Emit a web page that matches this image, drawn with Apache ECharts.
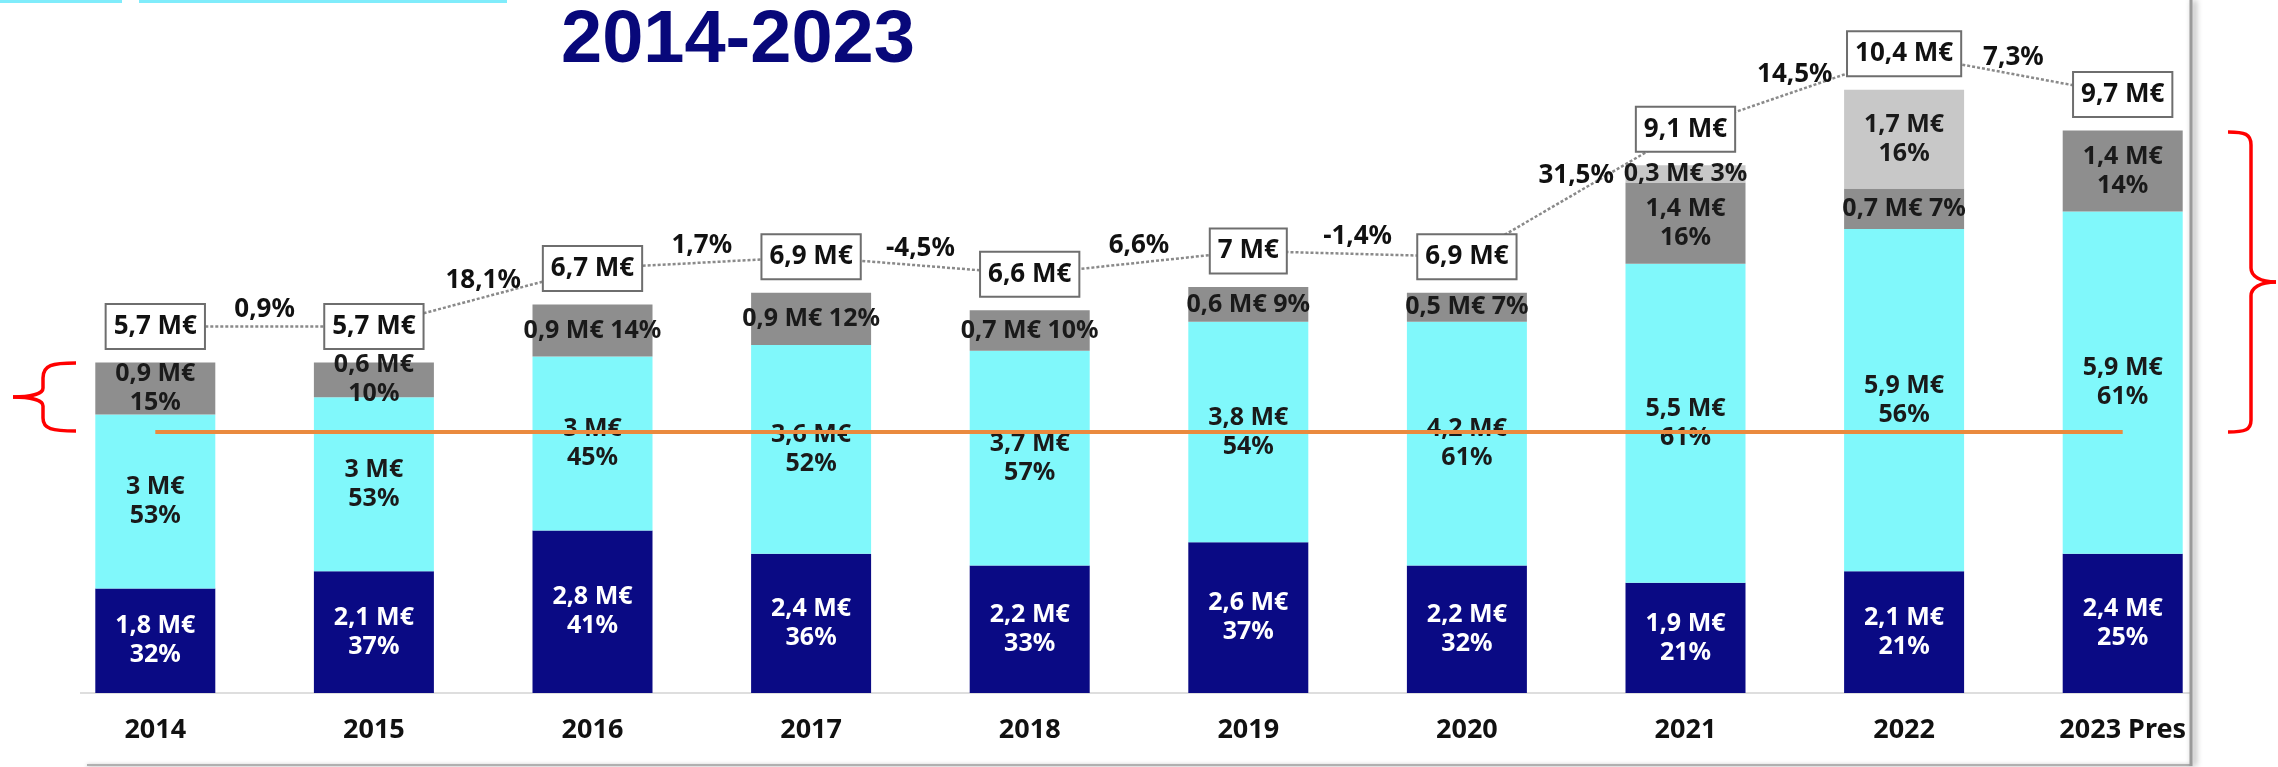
<!DOCTYPE html>
<html><head><meta charset="utf-8">
<script src="https://cdn.jsdelivr.net/npm/echarts@6/dist/echarts.min.js"></script>
<style>html,body{margin:0;padding:0;background:#fff}#c{width:2278px;height:767px}</style>
</head><body><div id="c"></div>
<script>
const categories = ['2014','2015','2016','2017','2018','2019','2020','2021','2022','2023 Pres'];
const navyValues = [1.8,2.1,2.8,2.4,2.2,2.6,2.2,1.9,2.1,2.4];
const navyPct    = [32,37,41,36,33,37,32,21,21,25];
const cyanValues = [3,3,3,3.6,3.7,3.8,4.2,5.5,5.9,5.9];
const cyanPct    = [53,53,45,52,57,54,61,61,56,61];
const grayValues = [0.9,0.6,0.9,0.9,0.7,0.6,0.5,1.4,0.7,1.4];
const grayPct    = [15,10,14,12,10,9,7,16,7,14];
const lightValues = [null,null,null,null,null,null,null,0.3,1.7,null];
const lightPct    = [null,null,null,null,null,null,null,3,16,null];
const totals = [5.7,5.7,6.7,6.9,6.6,7,6.9,9.1,10.4,9.7];
const growth = ['0,9%','18,1%','1,7%','-4,5%','6,6%','-1,4%','31,5%','14,5%','7,3%'];
const referenceLevel = 4.5;
const titleText = '2014-2023';

const grayTwoLine = [0,1,7,9];
const lightTwoLine = [8];

function fmt(v){ return (Number.isInteger(v) ? String(v) : v.toFixed(1).replace('.', ',')) + ' M€'; }

const barFont = {fontFamily:'Noto Sans', fontWeight:'bold', fontSize:25, lineHeight:29};

function barSeries(name, values, pct, color, textColor, twoLineIdx, extra){
  return Object.assign({
    name, type:'bar', stack:'total', barWidth:120, data: values,
    itemStyle:{color},
    label:Object.assign({show:true, position:'inside', color:textColor,
      formatter: p => {
        const i = p.dataIndex, v = values[i];
        if (v == null) return '';
        return twoLineIdx.indexOf(i) >= 0 ? fmt(v) + '\n' + pct[i] + '%' : fmt(v) + ' ' + pct[i] + '%';
      }}, barFont)
  }, extra || {});
}

// bracket drawing helpers (decoration)
const red = {stroke:'#ff0000', lineWidth:3.5, fill:null};
function bez(x1,y1,c1x,c1y,c2x,c2y,x2,y2){
  return {type:'bezierCurve', shape:{x1,y1,cpx1:c1x,cpy1:c1y,cpx2:c2x,cpy2:c2y,x2,y2}, style:red};
}
function seg(x1,y1,x2,y2){ return {type:'line', shape:{x1,y1,x2,y2}, style:red}; }
const leftBracket = [
  bez(76,363, 52,363, 43,365, 43,378), seg(43,378,43,388),
  bez(43,388, 43,394, 30,397, 13,397), bez(13,397, 30,397, 43,400, 43,406),
  seg(43,406,43,418), bez(43,418, 43,429, 52,431, 76,431)
];
const rightBracket = [
  bez(2228,132, 2245,132, 2251,134, 2251,145), seg(2251,145,2251,268),
  bez(2251,268, 2251,276, 2260,282, 2276,282), bez(2276,282, 2260,282, 2251,288, 2251,296),
  seg(2251,296,2251,420), bez(2251,420, 2251,430, 2245,432, 2228,432)
];

const all = [0,1,2,3,4,5,6,7,8,9];
const chart = echarts.init(document.getElementById('c'));
chart.setOption({
  animation:false,
  backgroundColor:'#fff',
  title:{text:titleText, left:556, top:0,
    textStyle:{fontFamily:'Liberation Sans', fontWeight:'bold', fontSize:74, color:'#08087a'}},
  grid:{left:46, right:46, top:55, bottom:74},
  xAxis:[
    {type:'category', data:categories, axisLine:{show:false}, axisTick:{show:false},
     axisLabel:{margin:24, color:'#111', fontFamily:"'Liberation Sans Narrow','Noto Sans'", fontWeight:'bold', fontSize:27}},
    {type:'value', min:-0.5, max:9.5, show:false}
  ],
  yAxis:[
    {type:'value', min:0, max:11, show:false},
    {type:'value', min:-0.62, max:10.38, show:false}
  ],
  series:[
    barSeries('navy', navyValues, navyPct, '#0a0a84', '#ffffff', all),
    barSeries('cyan', cyanValues, cyanPct, '#80f8fb', '#1a1a1a', all, {
      markLine:{silent:true, symbol:['none','none'], label:{show:false},
        lineStyle:{color:'#ea8a3e', width:4, type:'solid'},
        data:[[{coord:[0, referenceLevel]},{coord:[9, referenceLevel]}]]}
    }),
    barSeries('gray', grayValues, grayPct, '#8e8e8e', '#1a1a1a', grayTwoLine),
    barSeries('light', lightValues, lightPct, '#c8c8c8', '#1a1a1a', lightTwoLine),
    {type:'line', xAxisIndex:0, yAxisIndex:1, data:totals, symbol:'circle', symbolSize:1, showSymbol:true, z:5,
     clip:false,
     itemStyle:{color:'rgba(0,0,0,0)'},
     lineStyle:{color:'#8a8a8a', width:2.5, type:[3,2]},
     label:{show:true, position:'inside', formatter:p=>fmt(p.value),
       backgroundColor:'#fff', borderColor:'#6e6e6e', borderWidth:2, padding:[9,7,8,7],
       fontFamily:'Noto Sans', fontWeight:'bold', fontSize:26, color:'#111'}},
    {type:'scatter', xAxisIndex:1, yAxisIndex:1, symbolSize:0, z:6, clip:false,
     itemStyle:{opacity:1},
     data: growth.map((g,i)=>[i+0.5, (totals[i]+totals[i+1])/2]),
     label:{show:true, position:'top', distance:4, formatter:p=>growth[p.dataIndex],
       fontFamily:'Noto Sans', fontWeight:'bold', fontSize:26, color:'#111', opacity:1}}
  ],
  graphic:[
    {type:'rect', shape:{x:0, y:0, width:122, height:3}, style:{fill:'#80ecfb'}},
    {type:'rect', shape:{x:139, y:0, width:368, height:3}, style:{fill:'#80ecfb'}},
    {type:'line', shape:{x1:80, y1:693, x2:2190, y2:693}, style:{stroke:'#dedede', lineWidth:2}},
    {type:'line', shape:{x1:87, y1:765, x2:2192, y2:765},
     style:{stroke:'#b0b0b0', lineWidth:2, shadowBlur:4, shadowColor:'rgba(0,0,0,0.35)', shadowOffsetY:1}},
    {type:'line', shape:{x1:2191, y1:0, x2:2191, y2:766},
     style:{stroke:'#9a9a9a', lineWidth:3, shadowBlur:6, shadowColor:'rgba(0,0,0,0.45)', shadowOffsetX:3}}
  ].concat(leftBracket, rightBracket)
});
</script></body></html>
